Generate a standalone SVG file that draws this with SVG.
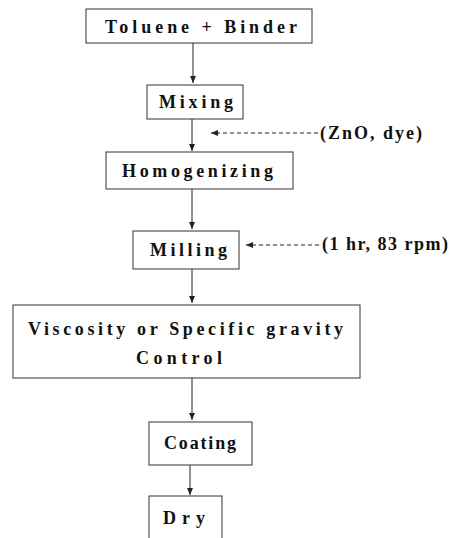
<svg xmlns="http://www.w3.org/2000/svg" width="456" height="538" viewBox="0 0 456 538">
<defs>
<marker id="ah" markerWidth="8" markerHeight="8" refX="7" refY="4" orient="auto" markerUnits="userSpaceOnUse">
<path d="M0,1 L7,4 L0,7 Z" fill="#222"/>
</marker>
</defs>
<style>
.box{fill:#fff;stroke:#333;stroke-width:1}
.t{font-family:"Liberation Serif","DejaVu Serif",serif;font-size:18px;font-weight:bold;fill:#111}
.c{stroke:#222;stroke-width:1;fill:none}
.d{stroke:#222;stroke-width:1;fill:none;stroke-dasharray:4,3}
</style>
<rect width="456" height="538" fill="#fff"/>
<g id="connectors">
<line class="c" x1="193" y1="43" x2="193" y2="83" marker-end="url(#ah)"/>
<line class="c" x1="192" y1="119" x2="192" y2="151" marker-end="url(#ah)"/>
<line class="c" x1="192" y1="189" x2="192" y2="229" marker-end="url(#ah)"/>
<line class="c" x1="192" y1="269" x2="192" y2="303" marker-end="url(#ah)"/>
<line class="c" x1="192" y1="378" x2="192" y2="420" marker-end="url(#ah)"/>
<line class="c" x1="190" y1="465" x2="190" y2="495" marker-end="url(#ah)"/>
<line class="d" x1="318" y1="133" x2="211" y2="133" marker-end="url(#ah)"/>
<line class="d" x1="319" y1="245" x2="246" y2="245" marker-end="url(#ah)"/>
</g>
<g id="toluene">
<rect class="box" x="86" y="9" width="226" height="34"/>
<text class="t" x="105" y="33" textLength="192" lengthAdjust="spacing">Toluene + Binder</text>
</g>
<g id="mixing">
<rect class="box" x="147" y="85" width="96" height="34"/>
<text class="t" x="159" y="108" textLength="74" lengthAdjust="spacing">Mixing</text>
</g>
<g id="zno">
<text class="t" x="320" y="139" textLength="102" lengthAdjust="spacing">(ZnO, dye)</text>
</g>
<g id="homogenizing">
<rect class="box" x="106" y="152" width="187" height="37"/>
<text class="t" x="122" y="177" textLength="151" lengthAdjust="spacing">Homogenizing</text>
</g>
<g id="milling">
<rect class="box" x="133" y="231" width="106" height="38"/>
<text class="t" x="150" y="256" textLength="77" lengthAdjust="spacing">Milling</text>
</g>
<g id="cond">
<text class="t" x="322" y="250" textLength="126" lengthAdjust="spacing">(1 hr, 83 rpm)</text>
</g>
<g id="viscosity">
<rect class="box" x="13" y="305" width="347" height="73"/>
<text class="t" x="28" y="335" textLength="315" lengthAdjust="spacing">Viscosity  or  Specific gravity</text>
<text class="t" x="136" y="364" textLength="86" lengthAdjust="spacing">Control</text>
</g>
<g id="coating">
<rect class="box" x="149" y="422" width="103" height="43"/>
<text class="t" x="164" y="449" textLength="72" lengthAdjust="spacing">Coating</text>
</g>
<g id="dry">
<rect class="box" x="149" y="496" width="73" height="46"/>
<text class="t" x="163" y="524" textLength="42" lengthAdjust="spacing">Dry</text>
</g>
</svg>
